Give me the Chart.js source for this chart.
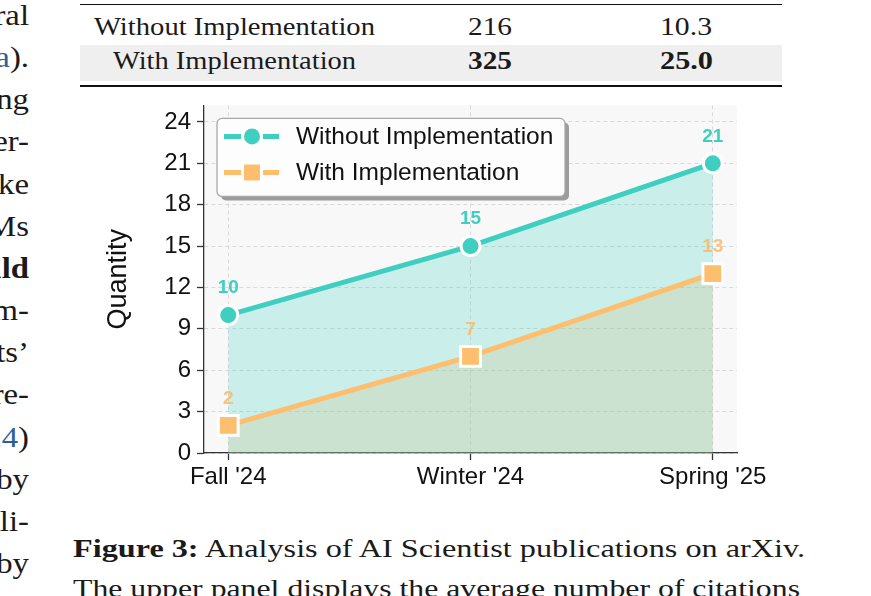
<!DOCTYPE html>
<html>
<head>
<meta charset="utf-8">
<title>AI Scientist publications on arXiv</title>
<script src="https://cdn.jsdelivr.net/npm/chart.js@4.4.0/dist/chart.umd.min.js"></script>
<style>
  html, body { margin: 0; padding: 0; background: #fff; }
  body {
    width: 871px; height: 596px; position: relative; overflow: hidden;
    font-family: "Liberation Serif", "Times New Roman", serif; color: #1a1a1a;
  }
  .t { position: absolute; white-space: nowrap; line-height: 1; }
  .fit { display: inline-block; transform-origin: 0 0; }
  /* clipped left column of the page */
  .side {
    position: absolute; left: -300px; width: 329px; height: 600px; text-align: right; font-size: 29px;
    transform: scaleX(1.13); transform-origin: 100% 0;
  }
  .side div { position: absolute; right: 0; white-space: nowrap; line-height: 1; }
  .link { color: #2f5d9b; }
  .rule { position: absolute; left: 80px; width: 702px; background: #111; }
  .shade { position: absolute; left: 80px; top: 45px; width: 702px; height: 36px; background: #efefef; }
  #wrap { position: absolute; left: 80px; top: 85px; width: 700px; height: 410px; }
</style>
</head>
<body>

<!-- left column, cut off by the page edge -->
<div class="side">
  <div style="top:1px">several</div>
  <div style="top:43px">(Lu et al., 2024<span class="link">a</span>).</div>
  <div style="top:85px">using</div>
  <div style="top:127px">inter-</div>
  <div style="top:170px">like</div>
  <div style="top:212px">LLMs</div>
  <div style="top:254px"><b>should</b></div>
  <div style="top:296px">com-</div>
  <div style="top:338px">scientists’</div>
  <div style="top:380px">re-</div>
  <div style="top:423px">(Si et al., 202<span class="link">4</span>)</div>
  <div style="top:465px">by</div>
  <div style="top:507px">publi-</div>
  <div style="top:549px">by</div>
</div>

<!-- table above the figure -->
<div class="rule" style="top:4px;height:1px"></div>
<div class="shade"></div>
<div class="rule" style="top:85px;height:2px"></div>
<div class="t" style="left:94px;top:14px;font-size:25px"><span class="fit" data-w="281">Without Implementation</span></div>
<div class="t" style="left:468px;top:14px;font-size:25px"><span class="fit" data-w="44">216</span></div>
<div class="t" style="left:660px;top:14px;font-size:25px"><span class="fit" data-w="52">10.3</span></div>
<div class="t" style="left:113px;top:48px;font-size:25px"><span class="fit" data-w="243">With Implementation</span></div>
<div class="t" style="left:468px;top:48px;font-size:25px;font-weight:bold"><span class="fit" data-w="44">325</span></div>
<div class="t" style="left:660px;top:48px;font-size:25px;font-weight:bold"><span class="fit" data-w="53">25.0</span></div>

<div id="wrap"><canvas id="pubChart" width="700" height="410"></canvas></div>

<!-- caption -->
<div class="t" style="left:73px;top:536px;font-size:26px"><span class="fit" data-w="732"><b>Figure 3:</b> Analysis of AI Scientist publications on arXiv.</span></div>
<div class="t" style="left:73px;top:576px;font-size:26px"><span class="fit" data-w="727">The upper panel displays the average number of citations</span></div>

<script>
// stretch serif lines to the measured widths of the original page
document.querySelectorAll('.fit').forEach(el => {
    const w = el.getBoundingClientRect().width;
    el.style.transform = 'scaleX(' + (parseFloat(el.dataset.w) / w) + ')';
});

// --- data ---
const seasons = ["Fall '24", "Winter '24", "Spring '25"];
const withoutImpl = [10, 15, 21];
const withImpl = [2, 7, 13];
const yTicks = [0, 3, 6, 9, 12, 15, 18, 21, 24];

const TEAL = '#3ecfc1';
const ORANGE = '#fdbe6d';
const SANS = '"Liberation Sans", Arial, Helvetica, sans-serif';

// grey panel behind the plot
const panelBg = {
    id: 'panelBg',
    beforeDraw(chart) {
        const a = chart.chartArea, ctx = chart.ctx;
        ctx.save();
        ctx.fillStyle = '#f8f8f8';
        ctx.fillRect(a.left, a.top, a.right - a.left, a.bottom - a.top);
        ctx.restore();
    }
};

// numbers above each point
const pointLabels = {
    id: 'pointLabels',
    afterDatasetsDraw(chart) {
        const ctx = chart.ctx;
        ctx.save();
        ctx.font = 'bold 19px ' + SANS;
        ctx.textAlign = 'center';
        ctx.textBaseline = 'middle';
        chart.data.datasets.forEach((ds, di) => {
            const meta = chart.getDatasetMeta(di);
            ctx.fillStyle = ds.labelColor;
            meta.data.forEach((pt, i) => {
                ctx.fillText(String(ds.data[i].y), pt.x, pt.y - 27);
            });
        });
        ctx.restore();
    }
};

// matplotlib-like legend box with shadow
const legendBox = {
    id: 'legendBox',
    afterDraw(chart) {
        const ctx = chart.ctx, a = chart.chartArea;
        const x = a.left + 13, y = a.top + 13, w = 348, h = 78;
        ctx.save();
        ctx.fillStyle = '#9c9c9c';
        ctx.beginPath(); ctx.roundRect(x + 4, y + 4, w, h, 5); ctx.fill();
        ctx.fillStyle = '#fdfdfd';
        ctx.strokeStyle = '#a8a8a8';
        ctx.lineWidth = 1.3;
        ctx.beginPath(); ctx.roundRect(x, y, w, h, 5); ctx.fill(); ctx.stroke();

        chart.data.datasets.forEach((ds, i) => {
            const cy = y + 18 + i * 36;
            const mx = x + 35;
            ctx.strokeStyle = ds.borderColor;
            ctx.lineWidth = 5;
            ctx.beginPath(); ctx.moveTo(x + 7, cy); ctx.lineTo(x + 62, cy); ctx.stroke();
            ctx.fillStyle = ds.borderColor;
            ctx.strokeStyle = '#fff';
            ctx.lineWidth = 3;
            ctx.beginPath();
            if (ds.pointStyle === 'rect') ctx.rect(mx - 9.5, cy - 9.5, 19, 19);
            else ctx.arc(mx, cy, 9.5, 0, Math.PI * 2);
            ctx.fill(); ctx.stroke();
            ctx.fillStyle = '#111';
            ctx.font = '24.5px ' + SANS;
            ctx.textAlign = 'left';
            ctx.textBaseline = 'middle';
            ctx.fillText(ds.label, x + 79, cy + 1);
        });
        ctx.restore();
    }
};

Chart.defaults.font.family = SANS;
Chart.defaults.color = '#111';

new Chart(document.getElementById('pubChart'), {
    type: 'line',
    data: {
        datasets: [{
            label: 'Without Implementation',
            data: withoutImpl.map((v, i) => ({ x: i, y: v })),
            borderColor: TEAL,
            backgroundColor: 'rgba(62, 207, 193, 0.25)',
            labelColor: TEAL,
            fill: 'origin',
            borderWidth: 5,
            pointStyle: 'circle',
            pointRadius: 9.5,
            pointBackgroundColor: TEAL,
            pointBorderColor: '#fff',
            pointBorderWidth: 3
        }, {
            label: 'With Implementation',
            data: withImpl.map((v, i) => ({ x: i, y: v })),
            borderColor: ORANGE,
            backgroundColor: 'rgba(253, 190, 109, 0.26)',
            labelColor: 'rgba(253, 185, 100, 0.85)',
            fill: 'origin',
            borderWidth: 5,
            pointStyle: 'rect',
            pointRadius: 14,
            pointBackgroundColor: ORANGE,
            pointBorderColor: '#fff',
            pointBorderWidth: 3
        }]
    },
    options: {
        responsive: false,
        animation: false,
        devicePixelRatio: 1,
        layout: { padding: { top: 15, right: 43, bottom: 0, left: 0 } },
        plugins: {
            legend: { display: false },
            tooltip: { enabled: false },
            filler: { drawTime: 'beforeDatasetsDraw' }
        },
        scales: {
            x: {
                type: 'linear',
                min: -0.1,
                max: 2.1,
                afterBuildTicks: s => { s.ticks = seasons.map((_, i) => ({ value: i })); },
                afterFit: s => { s.height = 42; },
                ticks: {
                    callback: v => seasons[v],
                    font: { size: 24 },
                    color: '#111',
                    padding: 3,
                    maxRotation: 0
                },
                grid: { color: '#d9d9d9', lineWidth: 1, tickLength: 7, tickColor: '#333', tickWidth: 1.3 },
                border: { color: '#333', width: 1.3, dash: [4, 3] }
            },
            y: {
                min: 0,
                max: 25.2,
                afterBuildTicks: s => { s.ticks = yTicks.map(v => ({ value: v })); },
                afterFit: s => { s.width = 124; },
                ticks: { font: { size: 24 }, color: '#111', padding: 6 },
                grid: { color: '#d9d9d9', lineWidth: 1, tickLength: 7, tickColor: '#333', tickWidth: 1.3 },
                border: { color: '#333', width: 1.3, dash: [4, 3] },
                title: {
                    display: true,
                    text: 'Quantity',
                    font: { size: 27, lineHeight: 1.2 },
                    color: '#111',
                    padding: { top: 22, bottom: 0 }
                }
            }
        }
    },
    plugins: [panelBg, pointLabels, legendBox]
});
</script>
</body>
</html>
